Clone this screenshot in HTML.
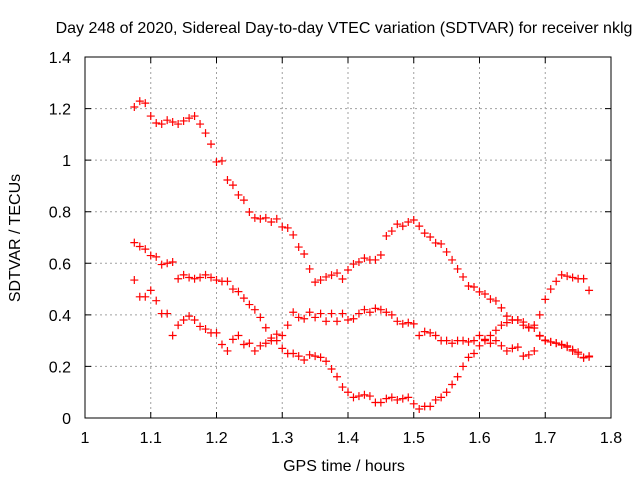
<!DOCTYPE html>
<html><head><meta charset="utf-8">
<style>
html,body{margin:0;padding:0;background:#fff;}
svg{display:block;font-family:"Liberation Sans",sans-serif;}
</style></head>
<body>
<svg id="chart" width="640" height="480" viewBox="0 0 640 480">
<text x="344" y="33" font-size="16" text-anchor="middle" fill="#000">Day 248 of 2020, Sidereal Day-to-day VTEC variation (SDTVAR) for receiver nklg</text>
<text x="344" y="471" font-size="16" text-anchor="middle" fill="#000">GPS time / hours</text>
<text transform="translate(20,238) rotate(-90)" font-size="16" text-anchor="middle" fill="#000">SDTVAR / TECUs</text>
<g id="grid"></g>
<g id="ticks"></g>
<g id="marks"></g>
<rect x="85" y="57" width="526" height="361" fill="none" stroke="#000" stroke-width="1"/>
</svg>
<script>
const xTicks = [1, 1.1, 1.2, 1.3, 1.4, 1.5, 1.6, 1.7, 1.8];
const xTickLabels = ["1", "1.1", "1.2", "1.3", "1.4", "1.5", "1.6", "1.7", "1.8"];
const yTicks = [0, 0.2, 0.4, 0.6, 0.8, 1, 1.2, 1.4];
const yTickLabels = ["0", "0.2", "0.4", "0.6", "0.8", "1", "1.2", "1.4"];
const xStart = 1.075;
const xStep = 0.008333;
const seriesA = [1.206,1.229,1.221,1.171,1.144,1.14,1.155,1.148,1.14,1.152,1.163,1.171,1.14,1.105,1.062,0.993,0.997,0.923,0.903,0.865,0.845,0.799,0.776,0.772,0.776,0.76,0.772,0.741,0.737,0.71,0.663,0.636,0.578,0.527,0.535,0.547,0.554,0.562,0.539,0.574,0.597,0.605,0.62,0.613,0.613,0.632,0.706,0.725,0.752,0.744,0.76,0.768,0.744,0.717,0.702,0.679,0.675,0.644,0.613,0.578,0.547,0.512,0.508,0.489,0.481,0.461,0.454,0.427,0.395,0.38,0.38,0.372,0.353,0.349,0.318,0.302,0.295,0.291,0.283,0.275,0.26,0.248,0.233,0.237];
const seriesB = [0.68,0.665,0.655,0.63,0.625,0.595,0.6,0.605,0.54,0.555,0.545,0.54,0.545,0.555,0.545,0.535,0.53,0.53,0.5,0.49,0.465,0.44,0.42,0.39,0.35,0.31,0.3,0.27,0.25,0.25,0.24,0.225,0.245,0.24,0.235,0.22,0.19,0.16,0.12,0.1,0.08,0.085,0.09,0.085,0.06,0.06,0.075,0.08,0.07,0.075,0.08,0.055,0.035,0.045,0.045,0.07,0.08,0.1,0.13,0.16,0.2,0.235,0.25,0.28,0.3,0.32,0.34,0.36,0.37,0.38,0.38,0.36,0.35,0.36,0.4,0.46,0.5,0.53,0.555,0.55,0.545,0.54,0.54,0.495];
const seriesC = [0.535,0.47,0.47,0.495,0.455,0.405,0.405,0.32,0.36,0.38,0.395,0.38,0.355,0.345,0.33,0.33,0.285,0.26,0.305,0.32,0.285,0.29,0.26,0.28,0.29,0.3,0.325,0.32,0.36,0.41,0.39,0.385,0.41,0.39,0.405,0.375,0.405,0.375,0.405,0.38,0.385,0.405,0.42,0.41,0.425,0.42,0.41,0.4,0.375,0.365,0.37,0.365,0.32,0.335,0.33,0.32,0.3,0.3,0.29,0.3,0.3,0.295,0.3,0.32,0.305,0.29,0.3,0.28,0.26,0.27,0.275,0.24,0.245,0.26,0.32,0.3,0.295,0.29,0.285,0.28,0.265,0.255,0.235,0.24];

const NS = "http://www.w3.org/2000/svg";
const L = 85, R = 611, T = 57, B = 418;
function xs(v){ return L + (v - 1) / 0.8 * (R - L); }
function ys(v){ return B - v / 1.4 * (B - T); }
function mk(tag, attrs){ const e = document.createElementNS(NS, tag); for (const k in attrs) e.setAttribute(k, attrs[k]); return e; }
const grid = document.getElementById('grid'), ticks = document.getElementById('ticks'), marks = document.getElementById('marks');

xTicks.forEach((t, i) => {
  const x = xs(t);
  if (i > 0 && i < xTicks.length - 1) {
    const g = mk('line', {x1:x, y1:T, x2:x, y2:B, stroke:'#a0a0a0', 'stroke-dasharray':'2,3', 'stroke-width':1});
    
    
    grid.appendChild(g);
  }
  const tk = mk('path', {d:`M${x},${B}v-6M${x},${T}v6`, stroke:'#000', 'stroke-width':1});
  
  
  ticks.appendChild(tk);
  const lb = mk('text', {x:x, y:B + 25, 'font-size':16, 'text-anchor':'middle', fill:'#000'});
  lb.textContent = xTickLabels[i];
  
  
  ticks.appendChild(lb);
});
yTicks.forEach((t, i) => {
  const y = ys(t);
  if (i > 0 && i < yTicks.length - 1) {
    const g = mk('line', {x1:L, y1:y, x2:R, y2:y, stroke:'#a0a0a0', 'stroke-dasharray':'2,3', 'stroke-width':1});
    
    
    grid.appendChild(g);
  }
  const tk = mk('path', {d:`M${L},${y}h6M${R},${y}h-6`, stroke:'#000', 'stroke-width':1});
  
  
  ticks.appendChild(tk);
  const lb = mk('text', {x:L - 14, y:y + 6, 'font-size':16, 'text-anchor':'end', fill:'#000'});
  lb.textContent = yTickLabels[i];
  
  
  ticks.appendChild(lb);
});
function drawSeries(arr, name){
  arr.forEach((v, i) => {
    const x = xs(xStart + i * xStep), y = ys(v);
    const p = mk('path', {d:`M${x-4},${y}h8M${x},${y-4}v8`, stroke:'#ff0000', 'stroke-width':1.2});
    
    
    marks.appendChild(p);
  });
}
drawSeries(seriesA, 'series-a');
drawSeries(seriesB, 'series-b');
drawSeries(seriesC, 'series-c');
</script>
</body></html>
